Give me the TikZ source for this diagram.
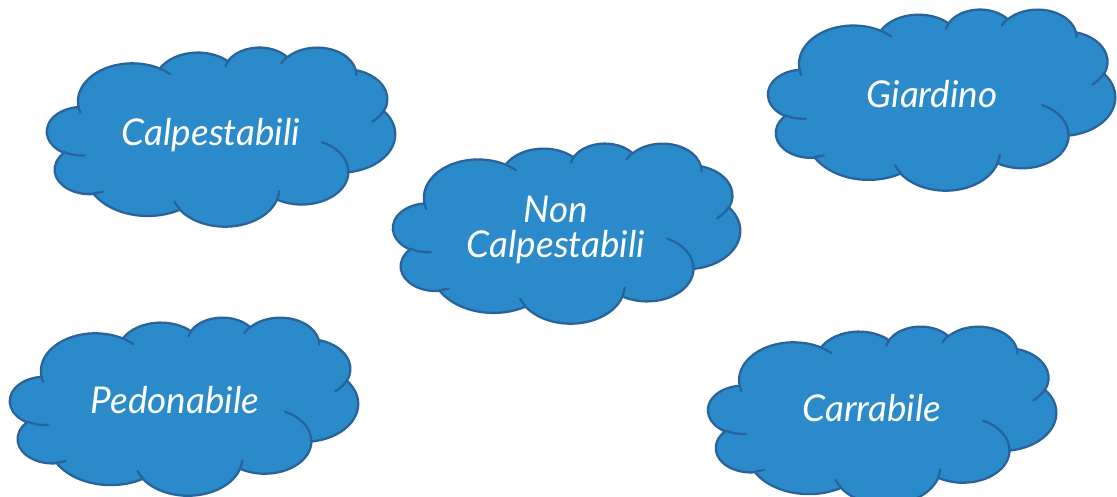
\documentclass[tikz,border=0pt]{standalone}
\usepackage{fontspec}
\setmainfont{Lato}
\definecolor{cloudfill}{RGB}{42,138,202}
\definecolor{cloudedge}{RGB}{40,100,155}
% visual angle -> parametric angle of an ellipse
\newcommand\cldang[3]{%
  \pgfmathsetmacro\cldT{atan2((#1)*sin(#3),(#2)*cos(#3))}%
  \pgfmathsetmacro\cldT{\cldT+360*round(((#3)-\cldT)/360)}}
\newcommand\cldprep[5]{% name rx ry start sweep
  \cldang{#2}{#3}{#4}\expandafter\xdef\csname cldS#1\endcsname{\cldT}%
  \cldang{#2}{#3}{(#4)+(#5)}\expandafter\xdef\csname cldE#1\endcsname{\cldT}}
\cldprep{a}{6.753}{9.190}{-190.48748}{123.78053}
\cldprep{b}{5.333}{7.267}{-144.10238}{89.94523}
\cldprep{c}{4.365}{5.945}{-145.80792}{99.72302}
\cldprep{d}{4.857}{6.595}{-130.98607}{117.24173}
\cldprep{e}{5.333}{7.273}{-78.70888}{109.02692}
\cldprep{f}{6.775}{9.220}{-46.26725}{130.269}
\cldprep{g}{5.785}{7.867}{0.62502}{114.03333}
\cldprep{h}{6.752}{9.215}{22.4516}{115.17255}
\cldprep{i}{7.720}{10.543}{66.24263}{75.71102}
\cldprep{j}{4.360}{5.918}{-274.94208}{146.73557}
\cldprep{k}{4.345}{5.945}{-246.8285}{152.51885}
% inner lines
\cldprep{A}{4.345}{5.945}{86.742}{26.4295}
\cldprep{B}{4.360}{5.918}{73.61047}{11.44747}
\cldprep{C}{6.752}{9.215}{137.62415}{14.0811}
\cldprep{D}{6.752}{9.215}{6.45327}{15.99835}
\cldprep{E}{5.785}{7.867}{-70.29235}{70.91737}
\cldprep{F}{5.333}{7.273}{30.31803}{27.7515}
\cldprep{G}{4.857}{6.595}{-13.74433}{14.8589}
\cldprep{H}{4.857}{6.595}{-149.18145}{18.19537}
\cldprep{I}{4.365}{5.945}{-163.49427}{17.68635}
\cldprep{J}{6.753}{9.190}{-66.70695}{12.31935}
\cldprep{K}{6.753}{9.190}{157.65435}{11.85817}
\newcommand\cloudshape{%
  \filldraw[cloudbody] (3.900,14.370)
    arc[x radius=6.753, y radius=9.190, start angle=\cldSa, end angle=\cldEa]
    arc[x radius=5.333, y radius=7.267, start angle=\cldSb, end angle=\cldEb]
    arc[x radius=4.365, y radius=5.945, start angle=\cldSc, end angle=\cldEc]
    arc[x radius=4.857, y radius=6.595, start angle=\cldSd, end angle=\cldEd]
    arc[x radius=5.333, y radius=7.273, start angle=\cldSe, end angle=\cldEe]
    arc[x radius=6.775, y radius=9.220, start angle=\cldSf, end angle=\cldEf]
    arc[x radius=5.785, y radius=7.867, start angle=\cldSg, end angle=\cldEg]
    arc[x radius=6.752, y radius=9.215, start angle=\cldSh, end angle=\cldEh]
    arc[x radius=7.720, y radius=10.543, start angle=\cldSi, end angle=\cldEi]
    arc[x radius=4.360, y radius=5.918, start angle=\cldSj, end angle=\cldEj]
    arc[x radius=4.345, y radius=5.945, start angle=\cldSk, end angle=\cldEk]
    -- cycle;
  \draw[cloudline]
    (4.693,26.177) arc[x radius=4.345, y radius=5.945, start angle=\cldSA, end angle=\cldEA]
    (6.928,34.899) arc[x radius=4.360, y radius=5.918, start angle=\cldSB, end angle=\cldEB]
    (16.478,39.090) arc[x radius=6.752, y radius=9.215, start angle=\cldSC, end angle=\cldEC]
    (28.827,34.751) arc[x radius=6.752, y radius=9.215, start angle=\cldSD, end angle=\cldED]
    (34.129,22.954) arc[x radius=5.785, y radius=7.867, start angle=\cldSE, end angle=\cldEE]
    (41.798,15.354) arc[x radius=5.333, y radius=7.273, start angle=\cldSF, end angle=\cldEF]
    (38.324,5.426) arc[x radius=4.857, y radius=6.595, start angle=\cldSG, end angle=\cldEG]
    (29.078,3.952) arc[x radius=4.857, y radius=6.595, start angle=\cldSH, end angle=\cldEH]
    (22.141,4.720) arc[x radius=4.365, y radius=5.945, start angle=\cldSI, end angle=\cldEI]
    (14.000,5.192) arc[x radius=6.753, y radius=9.190, start angle=\cldSJ, end angle=\cldEJ]
    (4.127,15.789) arc[x radius=6.753, y radius=9.190, start angle=\cldSK, end angle=\cldEK];
}
% left top width height, in pixels
\newcommand\cloudat[4]{%
  \begin{scope}[shift={({#1*0.02},{-#2*0.02})}, xscale={#3*0.02/43.2}, yscale={-#4*0.02/43.2}]
    \cloudshape
  \end{scope}}
\tikzset{
  cloudbody/.style={fill=cloudfill, draw=cloudedge, line width=1.3pt, line join=round},
  cloudline/.style={draw=cloudedge, line width=1.3pt, line cap=round},
  lbl/.style={text=white, font=\itshape\fontsize{21}{20.4}\selectfont, anchor=base, inner sep=0pt, align=center}
}
\begin{document}
\begin{tikzpicture}
\useasboundingbox (0,0) rectangle (22.34,-9.94);
\cloudat{47}{47}{348}{179}
\cloudat{393}{143}{347}{180}
\cloudat{768}{9}{347}{181}
\cloudat{10}{317}{348}{178}
\cloudat{708}{326}{348}{178}
\node[lbl] (calp) at (4.22,-2.92) {Calpestabili};
\node[lbl] (noncalp) at (11.12,-5.16) {Non\\Calpestabili};
\node[lbl] (giard) at (18.64,-2.16) {Giardino};
\node[lbl] (pedo) at (3.50,-8.28) {Pedonabile};
\node[lbl] (carr) at (17.44,-8.44) {Carrabile};
\end{tikzpicture}
\end{document}
